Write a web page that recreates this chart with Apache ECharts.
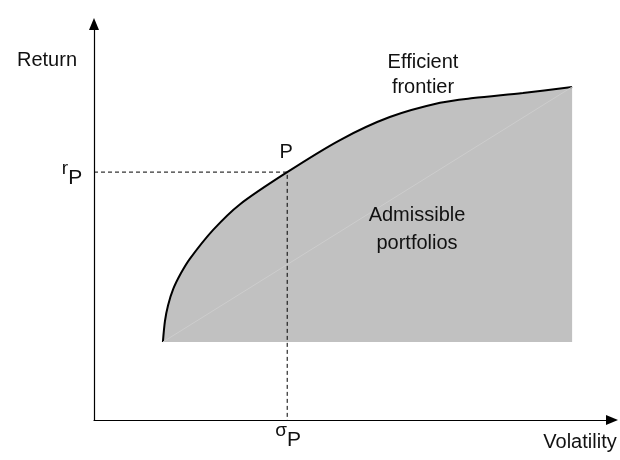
<!DOCTYPE html>
<html>
<head>
<meta charset="utf-8">
<script src="https://cdn.jsdelivr.net/npm/echarts@6/dist/echarts.min.js"></script>
<style>
  html, body { margin: 0; padding: 0; background: #fff; }
  #chart { width: 620px; height: 460px; }
</style>
</head>
<body>
<div id="chart"></div>
<script>
// frontier (arbitrary units, 0..100 on both axes)
const volatility = [13.3, 13.7, 14.3, 15.3, 16.8, 18.5, 23.0, 28.2, 37.3, 47.5, 57.1, 66.8, 73.2, 82.8, 92.3]
const frontierReturn = [19.7, 25.0, 29.0, 33.1, 37.1, 40.7, 48.0, 54.5, 62.6, 70.7, 76.5, 80.1, 81.3, 82.6, 84.1]
const pIndex = 8
const floorReturn = 19.7

const FONT = 'Liberation Sans, Arial, sans-serif'
const sigmaP = volatility[pIndex]
const rP = frontierReturn[pIndex]

const chart = echarts.init(document.getElementById('chart'))

const axisCommon = {
  type: 'value',
  min: 0,
  max: 100,
  axisLine: {
    show: true,
    onZero: false,
    symbol: ['none', 'triangle'],
    symbolSize: [10, 12],
    lineStyle: { color: '#000', width: 1.2 }
  },
  axisTick: { show: false },
  axisLabel: { show: false },
  splitLine: { show: false }
}

chart.setOption({
  animation: false,
  grid: { left: 94, right: 8, top: 24, bottom: 40 },
  xAxis: axisCommon,
  yAxis: axisCommon,
  series: [
    {
      name: 'frontier',
      type: 'line',
      data: volatility.map((v, i) => [v, frontierReturn[i]]),
      smooth: 0.3,
      symbol: 'none',
      z: 3,
      lineStyle: { color: '#000', width: 2 },
      areaStyle: { color: '#c1c1c1', opacity: 1, origin: floorReturn }
    },
    {
      // faint streak across the shaded region
      name: 'streak',
      type: 'line',
      data: [[volatility[0], floorReturn], [volatility[volatility.length - 1], frontierReturn[frontierReturn.length - 1]]],
      symbol: 'none',
      z: 4,
      lineStyle: { color: '#cdcdcd', width: 1 }
    },
    {
      name: 'guides',
      type: 'line',
      data: [[0, rP], [sigmaP, rP], [sigmaP, 0]],
      symbol: 'none',
      z: 5,
      lineStyle: { color: '#000', width: 1, type: [4, 3] }
    }
  ]
})

const pPix = chart.convertToPixel({ gridIndex: 0 }, [sigmaP, rP])
const origin = chart.convertToPixel({ gridIndex: 0 }, [0, 0])

function label(text, x, y, extra) {
  return {
    type: 'text',
    x, y,
    z: 100,
    style: Object.assign({
      text,
      font: '20px ' + FONT,
      fill: '#111',
      align: 'center',
      verticalAlign: 'middle'
    }, extra || {})
  }
}

const sub = {
  s: { fontSize: 19, fontFamily: FONT, color: '#111', verticalAlign: 'top', padding: [0, 0, 8, 0] },
  b: { fontSize: 21, fontFamily: FONT, color: '#111', padding: [8, 0, 0, 0] }
}

chart.setOption({
  graphic: [
    label('Return', 47, 60),
    label('Volatility', 580, 442),
    label('Efficient', 423, 62),
    label('frontier', 423, 87),
    label('Admissible', 417, 215),
    label('portfolios', 417, 243),
    label('P', pPix[0] - 1, pPix[1] - 20),
    label('{s|r}{b|P}', origin[0] - 22, pPix[1] + 2, { rich: sub }),
    label('{s|σ}{b|P}', pPix[0] + 1, origin[1] + 16, { rich: sub })
  ]
})
</script>
</body>
</html>
